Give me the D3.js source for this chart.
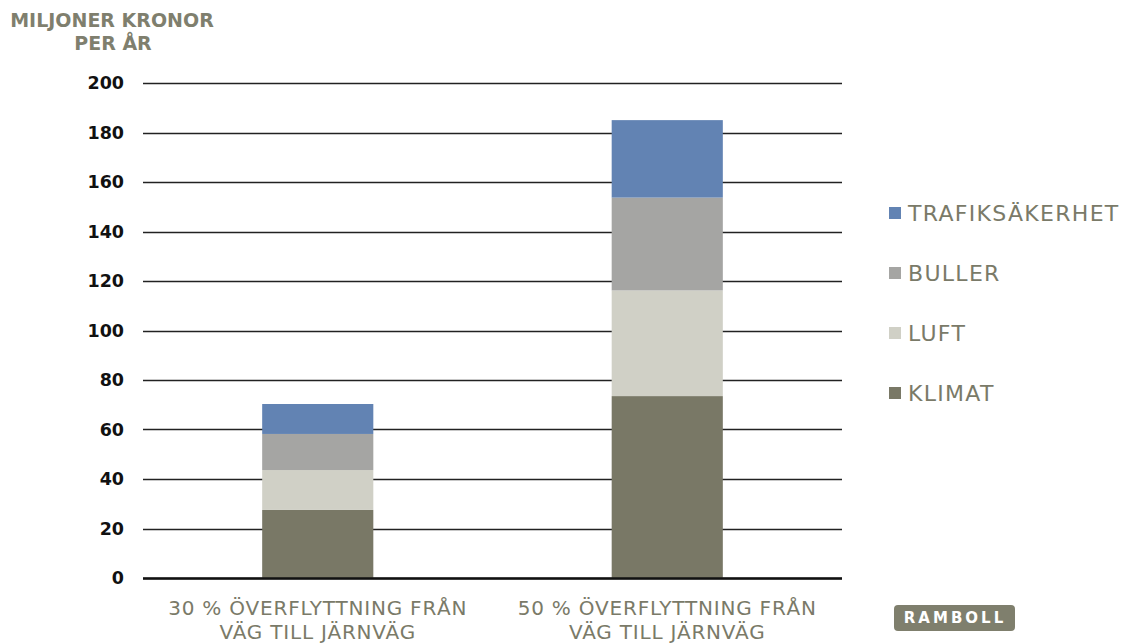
<!DOCTYPE html>
<html><head><meta charset="utf-8">
<script src="https://d3js.org/d3.v7.min.js"></script>
<style>body{margin:0;background:#fff}</style>
</head><body>
<script>
const categories = ["30 % ÖVERFLYTTNING FRÅN|VÄG TILL JÄRNVÄG", "50 % ÖVERFLYTTNING FRÅN|VÄG TILL JÄRNVÄG"];
const seriesNames = ["KLIMAT", "LUFT", "BULLER", "TRAFIKSÄKERHET"];
const klimat = [27.5, 73.5];
const luft = [16.1, 42.7];
const buller = [14.6, 37.5];
const trafik = [12.1, 31.3];
const yTicks = [0, 20, 40, 60, 80, 100, 120, 140, 160, 180, 200];
const colors = ["#797866", "#d0d0c6", "#a5a5a3", "#6283b3"];

(function () {
const W = 1123, H = 643;
const svg = d3.select("body").append("svg").attr("width", W).attr("height", H);
const pLeft = 143, pRight = 842, pTop = 83, pBottom = 578;

const y = d3.scaleLinear().domain([0, 200]).range([pBottom, pTop]);
const x = d3.scaleBand().domain(categories).range([pLeft, pRight]).paddingInner(0.682).paddingOuter(0.341);

const rows = categories.map((c, i) => ({cat: c, KLIMAT: klimat[i], LUFT: luft[i], BULLER: buller[i], "TRAFIKSÄKERHET": trafik[i]}));
const stack = d3.stack().keys(seriesNames)(rows);

// grid
svg.append("g").selectAll("line").data(yTicks).join("line")
  .attr("x1", pLeft).attr("x2", pRight)
  .attr("y1", d => Math.round(y(d)) + 0.5).attr("y2", d => Math.round(y(d)) + 0.5)
  .attr("stroke", "#222")
  .attr("stroke-width", 1.4);

// bars
svg.append("g").selectAll("g").data(stack).join("g")
  .attr("fill", (d, i) => colors[i])
  .selectAll("rect").data(d => d).join("rect")
  .attr("x", d => x(d.data.cat))
  .attr("width", x.bandwidth())
  .attr("y", d => y(d[1]))
  .attr("height", d => y(d[0]) - y(d[1]));

// zero line on top
svg.append("line").attr("x1", pLeft).attr("x2", pRight)
  .attr("y1", Math.round(y(0)) + 0.5).attr("y2", Math.round(y(0)) + 0.5)
  .attr("stroke", "#111").attr("stroke-width", 2.5);

// y tick labels
svg.append("g").selectAll("text").data(yTicks).join("text")
  .attr("x", 124).attr("y", d => y(d)).attr("dy", "0.36em")
  .attr("text-anchor", "end")
  .attr("font-family", "DejaVu Sans, Verdana, sans-serif").attr("font-weight", "bold")
  .attr("font-size", 17.5).attr("fill", "#111")
  .text(d => d);

// y title
const title = svg.append("text").attr("font-family", "DejaVu Sans, Verdana, sans-serif")
  .attr("font-weight", "bold").attr("font-size", 19).attr("fill", "#7f7f6e").attr("text-anchor", "middle");
title.append("tspan").attr("x", 112).attr("y", 27).text("MILJONER KRONOR");
title.append("tspan").attr("x", 113).attr("y", 50).text("PER ÅR");

// x labels
const xl = svg.append("g").selectAll("text").data(categories).join("text")
  .attr("text-anchor", "middle")
  .attr("font-family", "DejaVu Sans, sans-serif")
  .attr("font-size", 20).attr("letter-spacing", 0.8).attr("fill", "#7a7a68");
xl.selectAll("tspan").data(d => d.split("|").map(t => ({t, c: d}))).join("tspan")
  .attr("x", d => x(d.c) + x.bandwidth() / 2)
  .attr("y", (d, i) => 615 + i * 24)
  .text(d => d.t);

// legend
const legendOrder = ["TRAFIKSÄKERHET", "BULLER", "LUFT", "KLIMAT"];
const lg = svg.append("g").selectAll("g").data(legendOrder).join("g")
  .attr("transform", (d, i) => `translate(889, ${213 + i * 60})`);
lg.append("rect").attr("x", 0).attr("y", -6).attr("width", 12).attr("height", 12)
  .attr("fill", d => colors[seriesNames.indexOf(d)]);
lg.append("text").attr("x", 19).attr("y", 0).attr("dy", "0.36em")
  .attr("font-family", "DejaVu Sans, Verdana, sans-serif").attr("font-size", 22)
  .attr("letter-spacing", 1.3).attr("fill", "#7a7a68").text(d => d);

// logo
svg.append("rect").attr("x", 894).attr("y", 605).attr("width", 121).attr("height", 26)
  .attr("rx", 4).attr("fill", "#7f7f6d");
svg.append("text").attr("x", 955).attr("y", 618).attr("dy", "0.36em").attr("text-anchor", "middle")
  .attr("font-family", "DejaVu Sans, sans-serif").attr("font-size", 15).attr("font-weight", "bold")
  .attr("letter-spacing", 3).attr("fill", "#fff").text("RAMBOLL");
})();
</script>
</body></html>
